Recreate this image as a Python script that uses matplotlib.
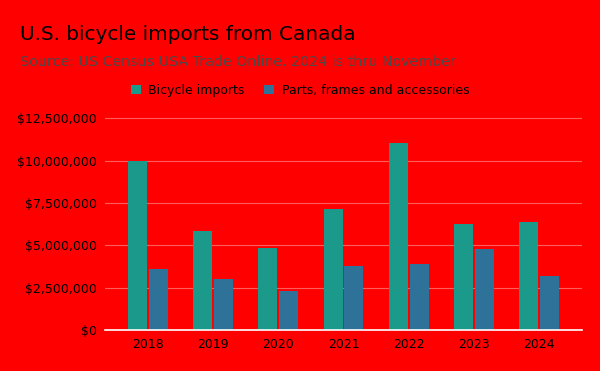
import matplotlib.pyplot as plt
from matplotlib.ticker import FuncFormatter
import numpy as np

# podaci ocitani sa slike
years = ["2018", "2019", "2020", "2021", "2022", "2023", "2024"]
bicycles = [9.96e6, 5.83e6, 4.84e6, 7.15e6, 11.03e6, 6.26e6, 6.36e6]
parts = [3.58e6, 2.99e6, 2.28e6, 3.78e6, 3.90e6, 4.77e6, 3.19e6]
series_names = ["Bicycle imports", "Parts, frames and accessories"]

red = "#ff0000"
green = "#1b998b"
blue = "#2e7199"

fig = plt.figure(figsize=(6, 3.71), dpi=100, facecolor=red)
ax = fig.add_axes([0.175, 0.1105, 0.795, 0.575])
ax.set_facecolor(red)

x = np.arange(len(years))
w = 0.29
ax.bar(x - 0.16, bicycles, w, color=green, label=series_names[0], zorder=3)
ax.bar(x + 0.16, parts, w, color=blue, label=series_names[1], zorder=3)

ax.set_xlim(-0.66, 6.66)
ax.set_ylim(0, 12.6e6)
ax.set_yticks(np.arange(0, 12.5e6 + 1, 2.5e6))
ax.yaxis.set_major_formatter(FuncFormatter(lambda v, p: "${:,.0f}".format(v)))
ax.set_xticks(x)
ax.set_xticklabels(years)
ax.tick_params(length=0, labelsize=9, colors="black", pad=6)
ax.grid(axis="y", color="#ff5c5c", lw=0.8, zorder=0)
for s in ["top", "right", "left"]:
    ax.spines[s].set_visible(False)
ax.spines["bottom"].set_color("white")
ax.spines["bottom"].set_linewidth(1.2)
ax.spines["bottom"].set_zorder(4)

fig.text(0.033, 0.892, "U.S. bicycle imports from Canada", fontsize=14.4,
         color="black", va="baseline")
fig.text(0.033, 0.821, "Source: US Census USA Trade Online. 2024 is thru November",
         fontsize=10.25, color="#4a4a4a", va="baseline")
fig.legend(loc="center", bbox_to_anchor=(0.5, 0.757), ncol=2, frameon=False,
           fontsize=9, handlelength=0.8, handleheight=0.8, handletextpad=0.6,
           columnspacing=1.6)

plt.savefig("out.png", dpi=100, facecolor=red)
